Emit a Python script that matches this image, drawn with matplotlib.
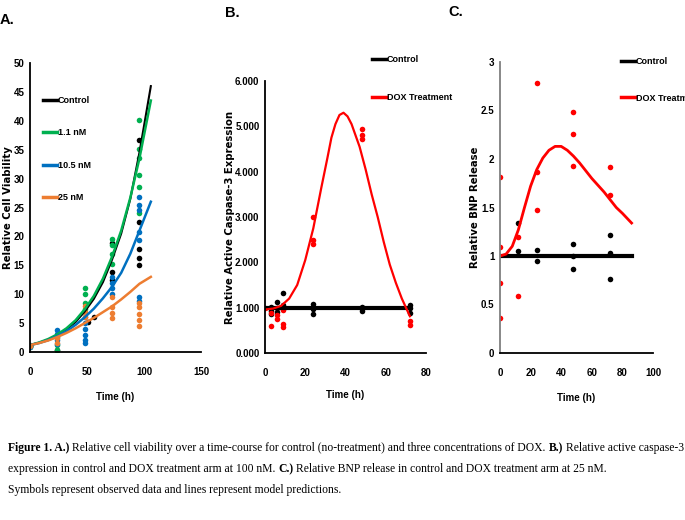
import matplotlib
matplotlib.use("Agg")
import matplotlib.pyplot as plt
from matplotlib.lines import Line2D
from matplotlib.ticker import FormatStrFormatter

# ---- A: relative cell viability (observed) ----
a_ctrl_t = [0, 0, 24, 51, 56, 72, 72, 72, 96, 96, 96, 96, 96]
a_ctrl_y = [1.0, 1.1, 0.3, 5.2, 6.0, 18.8, 13.9, 12.5, 36.7, 22.5, 17.9, 16.3, 15.0]
a_g_t = [0, 0, 24, 24, 48, 48, 48, 48, 72, 72, 72, 72, 96, 96, 96, 96, 96, 96]
a_g_y = [1.0, 0.9, 0.4, 1.2, 11.0, 10.0, 8.5, 7.5, 19.6, 18.5, 17.0, 15.3, 40.1, 35.2, 33.5, 30.6, 28.6, 24.0]
a_b_t = [0, 0, 24, 24, 24, 24, 24, 48, 48, 48, 48, 48, 48, 72, 72, 72, 72, 96, 96, 96, 96, 96, 96, 96]
a_b_y = [0.8, 1.2, 3.8, 3.2, 2.6, 2.0, 1.4, 6.0, 5.0, 4.0, 3.0, 2.0, 1.5, 12.9, 12.0, 11.0, 10.0,
         26.9, 25.5, 24.5, 20.8, 19.4, 9.6, 8.8]
a_o_t = [0, 24, 24, 48, 48, 48, 72, 72, 72, 72, 96, 96, 96, 96, 96]
a_o_y = [1.0, 1.5, 2.5, 8.0, 7.0, 6.0, 9.6, 7.8, 6.7, 5.8, 8.5, 7.8, 6.5, 5.5, 4.5]

# model predictions
a_fit_t = [0, 8, 16, 24, 32, 40, 48, 56, 64, 72, 80, 88, 96, 106]
a_fit_ctrl = [1.2, 1.6, 2.15, 2.9, 3.9, 5.2, 7.0, 9.2, 12.1, 16.0, 20.5, 26.5, 34.5, 46.0]
a_fit_g = [1.2, 1.65, 2.25, 3.05, 4.1, 5.5, 7.4, 9.7, 12.7, 16.5, 21.0, 26.7, 33.5, 43.5]
a_fit_b = [1.2, 1.55, 2.05, 2.75, 3.6, 4.7, 6.0, 7.5, 9.3, 11.3, 13.7, 17.0, 21.0, 26.0]
a_fit_o = [1.2, 1.55, 2.0, 2.6, 3.3, 4.1, 5.0, 5.9, 6.9, 7.9, 9.1, 10.4, 11.8, 13.0]
a_labels = ["Control", "1.1 nM", "10.5 nM", "25 nM"]

# ---- B: caspase-3 ----
b_dox_t = [0, 3, 3, 6, 6, 9, 9, 9, 24, 24, 24, 48, 48, 48, 72, 72]
b_dox_y = [1.0, 0.88, 0.6, 0.83, 0.75, 0.95, 0.65, 0.58, 3.0, 2.5, 2.4, 4.95, 4.8, 4.72, 0.7, 0.62]
b_ctrl_t = [3, 3, 3, 6, 6, 6, 9, 9, 9, 24, 24, 24, 48, 48, 48, 72, 72, 72]
b_ctrl_y = [1.02, 0.92, 0.85, 1.12, 1.0, 0.9, 1.32, 1.05, 0.98, 1.08, 0.98, 0.85, 1.02, 0.97, 0.93,
            1.06, 1.0, 0.88]
b_fit_t = [0, 4, 8, 12, 16, 20, 24, 28, 31, 33, 35, 37, 39, 41, 43, 45, 47, 50, 53, 56, 59, 62, 65, 68, 72]
b_fit_dox = [0.96, 0.98, 1.04, 1.2, 1.5, 2.05, 2.75, 3.65, 4.3, 4.75, 5.05, 5.25, 5.3, 5.22, 5.05,
             4.8, 4.55, 4.05, 3.5, 3.0, 2.45, 1.95, 1.55, 1.2, 0.81]
b_fit_ctrl_t = [0, 72]
b_fit_ctrl = [1.0, 1.0]

# ---- C: BNP release ----
c_dox_t = [0, 0, 0, 0, 12, 12, 24, 24, 24, 48, 48, 48, 72, 72]
c_dox_y = [1.81, 1.09, 0.72, 0.36, 1.2, 0.59, 2.78, 1.87, 1.47, 2.48, 2.26, 1.93, 1.92, 1.63]
c_ctrl_t = [12, 12, 24, 24, 48, 48, 48, 72, 72, 72]
c_ctrl_y = [1.34, 1.05, 1.06, 0.95, 1.12, 1.0, 0.87, 1.22, 1.03, 0.76]
c_fit_t = [0, 4, 8, 12, 16, 20, 24, 28, 32, 36, 40, 44, 48, 52, 56, 60, 64, 68, 72, 76, 80, 86]
c_fit_dox = [1.0, 1.02, 1.1, 1.27, 1.5, 1.72, 1.89, 2.01, 2.09, 2.13, 2.13, 2.09, 2.03, 1.96, 1.88,
             1.8, 1.73, 1.66, 1.58, 1.5, 1.44, 1.34]
c_fit_ctrl_t = [0, 86]
c_fit_ctrl = [1.0, 1.0]
c_yticks = [0, 0.5, 1, 1.5, 2, 2.5, 3]
c_ytick_labels = ["0", "0.5", "1", "1.5", "2", "2.5", "3"]
bc_labels = ["Control", "DOX Treatment"]

BLACK, GREEN, BLUE, ORANGE, RED = "#000000", "#00b050", "#0070c0", "#ed7d31", "#ff0000"
SANS = "Liberation Sans"

W, H = 685, 520
fig = plt.figure(figsize=(W / 100, H / 100), dpi=100)


def px_axes(left, top, right, bottom):
    return fig.add_axes([left / W, 1 - bottom / H, (right - left) / W, (bottom - top) / H])


def style(ax, ylabel, ylab_off):
    for s in ["top", "right"]:
        ax.spines[s].set_visible(False)
    for s in ["left", "bottom"]:
        ax.spines[s].set_linewidth(1.3)
    ax.tick_params(length=0, labelsize=7)
    ax.tick_params(axis="x", pad=11)
    ax.tick_params(axis="y", pad=4)
    for lbl in ax.get_xticklabels() + ax.get_yticklabels():
        lbl.set_fontfamily(SANS)
        lbl.set_fontweight("bold")
    ax.set_xlabel("Time (h)", fontfamily=SANS, fontweight="bold", fontsize=7)
    ax.xaxis.label.set(va="center")
    ax.xaxis.set_label_coords(0.5, -0.155)
    ax.set_ylabel(ylabel, fontfamily="DejaVu Sans", fontweight="bold", fontsize=7.3)
    ax.yaxis.label.set(va="center")
    ax.yaxis.set_label_coords(ylab_off, 0.5)


def legend_at(ax, colors, labels, x_px, y_px, spacing):
    handles = [Line2D([], [], color=c, lw=2.5) for c in colors]
    ax.legend(handles, labels, loc="upper left", bbox_to_anchor=(x_px / W, 1 - y_px / H),
              bbox_transform=fig.transFigure, frameon=False, borderpad=0, borderaxespad=0,
              handlelength=1.5, handletextpad=0.15, labelspacing=spacing,
              prop={"family": SANS, "weight": "bold", "size": 6.5})


# panel A
axA = px_axes(30, 63, 201, 352)
for t, y, c in [(a_ctrl_t, a_ctrl_y, BLACK), (a_g_t, a_g_y, GREEN), (a_b_t, a_b_y, BLUE), (a_o_t, a_o_y, ORANGE)]:
    axA.plot(t, y, "o", color=c, ms=4, mec="none")
axA.plot(a_fit_t, a_fit_ctrl, color=BLACK, lw=1.5)
axA.plot(a_fit_t, a_fit_g, color=GREEN, lw=1.8)
axA.plot(a_fit_t, a_fit_b, color=BLUE, lw=1.8)
axA.plot(a_fit_t, a_fit_o, color=ORANGE, lw=1.8)
axA.set_xlim(0, 150)
axA.set_ylim(0, 50)
axA.set_xticks([0, 50, 100, 150])
axA.set_yticks(range(0, 51, 5))
style(axA, "Relative Cell Viability", -22 / 171)
legend_at(axA, [BLACK, GREEN, BLUE, ORANGE], a_labels, 43, 96, 2.6)

# panel B
axB = px_axes(265, 81, 426, 353)
axB.plot(b_ctrl_t, b_ctrl_y, "o", color=BLACK, ms=4, mec="none")
axB.plot(b_dox_t, b_dox_y, "o", color=RED, ms=4, mec="none")
axB.plot(b_fit_ctrl_t, b_fit_ctrl, color=BLACK, lw=3)
axB.plot(b_fit_t, b_fit_dox, color=RED, lw=1.6)
axB.set_xlim(0, 80)
axB.set_ylim(0, 6)
axB.set_xticks(range(0, 81, 20))
axB.set_yticks(range(0, 7))
axB.yaxis.set_major_formatter(FormatStrFormatter("%.3f"))
style(axB, "Relative Active Caspase-3 Expression", -35 / 161)
legend_at(axB, [BLACK, RED], bc_labels, 372, 55, 3.2)

# panel C
axC = px_axes(500, 62, 653, 353)
axC.plot(c_ctrl_t, c_ctrl_y, "o", color=BLACK, ms=4, mec="none")
axC.plot(c_dox_t, c_dox_y, "o", color=RED, ms=4, mec="none")
axC.plot(c_fit_ctrl_t, c_fit_ctrl, color=BLACK, lw=3)
axC.plot(c_fit_t, c_fit_dox, color=RED, lw=2)
axC.set_xlim(0, 100)
axC.set_ylim(0, 3)
axC.set_xticks(range(0, 101, 20))
axC.set_yticks(c_yticks)
axC.set_yticklabels(c_ytick_labels)
style(axC, "Relative BNP Release", -25 / 153)
axC.spines["left"].set_color("#7f7f7f")
legend_at(axC, [BLACK, RED], bc_labels, 621, 57, 3.05)

# panel letters
for x, y, s in [(0, 20, "A."), (225, 13, "B."), (448, 12, "C.")]:
    fig.text(x / W, 1 - y / H, s, fontsize=10.5, fontweight="bold", fontfamily=SANS, va="center")

# caption
cap_lines = [
    (448, [("Figure 1. A.)", True),
           ("Relative cell viability over a time-course for control (no-treatment) and three concentrations of DOX.", False),
           ("B.)", True), ("Relative active caspase-3", False)]),
    (469, [("expression in control and DOX treatment arm at 100 nM.", False), ("C.)", True),
           ("Relative BNP release in control and DOX treatment arm at 25 nM.", False)]),
    (490, [("Symbols represent observed data and lines represent model predictions.", False)]),
]
renderer = fig.canvas.get_renderer()


def draw_line(y_px, parts, size):
    x = 8
    space = size * 100 / 72 * 0.25
    texts = []
    for s, bold in parts:
        t = fig.text(x / W, 1 - y_px / H, s, fontsize=size, fontfamily="Liberation Serif",
                     fontweight="bold" if bold else "normal", va="center", ha="left")
        x = t.get_window_extent(renderer).x1 + space
        texts.append(t)
    return texts, x - space - 8


trial, w = draw_line(cap_lines[0][0], cap_lines[0][1], 10)
for t in trial:
    t.remove()
size = 10 * 674 / w
for y, parts in cap_lines:
    draw_line(y, parts, size)

fig.savefig("out.png", dpi=100)
